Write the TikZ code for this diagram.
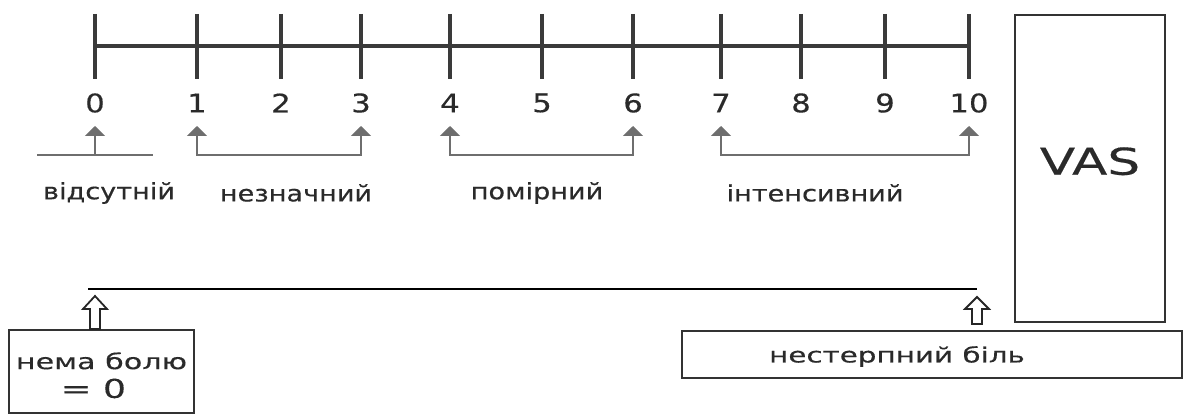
\documentclass[tikz,border=0pt]{standalone}
\usepackage{fontspec}
\setmainfont{DejaVu Sans}[FakeStretch=1.2,FakeBold=0.4]
\newfontfamily\widefont{DejaVu Sans}[FakeStretch=1.4,FakeBold=0.3]
\usetikzlibrary{arrows.meta}
\definecolor{tickc}{HTML}{3A3A3A}
\definecolor{brc}{HTML}{6E6E6E}
\definecolor{txt}{HTML}{2A2A2A}
\tikzset{
  tickline/.style={draw=tickc, line width=2pt},
  axisline/.style={draw=tickc, line width=1.6pt},
  num/.style={font=\fontsize{12.8}{14}\selectfont, text=txt, inner sep=0pt},
  lab/.style={font=\fontsize{11.3}{13}\selectfont, text=txt, inner sep=0pt},
  bracket/.style={draw=brc, line width=1pt},
  tri/.style={-{Triangle[width=10pt,length=5pt]}},
  bitri/.style={{Triangle[width=10pt,length=5pt]}-{Triangle[width=10pt,length=5pt]}},
  boxn/.style={draw=black!80, line width=1pt, inner sep=0pt, text=txt},
  hollow/.style={draw=black!85, line width=0.9pt, fill=white},
}
\begin{document}
\begin{tikzpicture}[x=0.5pt,y=-0.5pt]
\useasboundingbox (0,0) rectangle (1188,416);
% scale
\draw[axisline] (95,46) -- (969,46);
\foreach \v/\x in {0/95,1/197,2/281,3/361,4/450,5/542,6/633,7/721,8/801,9/885,10/969}{
  \draw[tickline] (\x,14) -- (\x,79);
  \node[num] (n\v) at (\x,103) {\v};
  \coordinate (t\v) at (\x,126);
  \coordinate (c\v) at (\x,155);
}
% brackets
\coordinate (b0l) at (37,155);
\coordinate (b0r) at (153,155);
\draw[bracket] (b0l) -- (b0r);
\draw[bracket,tri] (c0) -- (t0);
\draw[bracket,bitri] (t1) -- (c1) -- (c3) -- (t3);
\draw[bracket,bitri] (t4) -- (c4) -- (c6) -- (t6);
\draw[bracket,bitri] (t7) -- (c7) -- (c10) -- (t10);
% labels
\node[lab] (l0) at (109,193) {відсутній};
\node[lab] (l1) at (296,193) {незначний};
\node[lab] (l2) at (537,193) {помірний};
\node[lab] (l3) at (815,193) {інтенсивний};
% VAS box
\node[boxn, minimum width=75pt, minimum height=153.5pt,
      font=\widefont\fontsize{18.5}{20}\selectfont] (vas) at (1090,168.5) {\raisebox{7.5pt}{VAS}};
% long line
\coordinate (L) at (88,289);
\coordinate (R) at (977,289);
\draw[black, line width=1.2pt] (L) -- (R);
% bottom boxes
\node[boxn, minimum width=92.5pt, minimum height=41.5pt,
      font=\widefont\fontsize{10.8}{12.5}\selectfont] (nb) at (101.5,371.5)
      {\raisebox{-3.5pt}[\height][\depth]{\begin{tabular}{@{}c@{}}нема болю\\[1pt]\hspace*{-8pt}{\fontsize{13}{13}\selectfont = 0}\end{tabular}}};
\node[boxn, minimum width=250pt, minimum height=23.5pt,
      font=\widefont\fontsize{10.5}{12}\selectfont] (ub) at (932,354.5)
      {\raisebox{-1pt}[\height][\depth]{нестерпний біль}\hspace*{35pt}};
% hollow arrows
\path (nb.north) ++(-6.5,0) coordinate (ha);
\draw[hollow] (ha) ++(-5,0) -- ++(0,-20) -- ++(-7,0) -- ++(12,-13) -- ++(12,13) -- ++(-7,0) -- ++(0,20) -- cycle;
\path (ub.north) ++(45,-6) coordinate (hb);
\draw[hollow] (hb) ++(-5,0) -- ++(0,-15) -- ++(-7,0) -- ++(12,-12) -- ++(12,12) -- ++(-7,0) -- ++(0,15) -- cycle;
\end{tikzpicture}
\end{document}
